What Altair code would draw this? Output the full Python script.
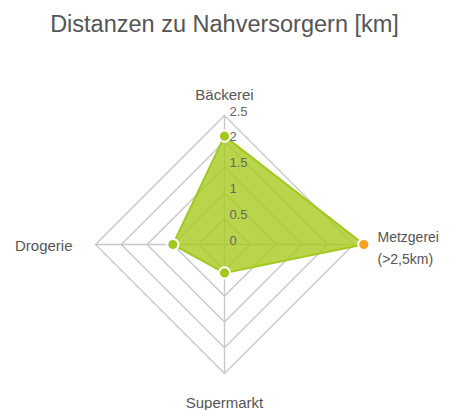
import altair as alt
import pandas as pd

title_text = "Distanzen zu Nahversorgern [km]"
categories = ["Bäckerei", "Metzgerei", "Supermarkt", "Drogerie"]
label_lines = [["Bäckerei"], ["Metzgerei", "(>2,5km)"], ["Supermarkt"], ["Drogerie"]]
values = [2.1, 2.7, 0.55, 1.0]
levels = [0.5, 1.0, 1.5, 2.0, 2.5]
tick_values = [0, 0.5, 1.0, 1.5, 2.0, 2.5]
tick_labels = ["0", "0.5", "1", "1.5", "2", "2.5"]
scale_max = 2.5

GREEN = "#a3c81e"
FILL = "#a8ca1e"
ORANGE = "#f7a21f"
GRID = "#c8c8c8"
FONT = "Liberation Sans, Arial, sans-serif"

n = len(categories)
W, H = 433, 340
PAD_TOP = 62
cx, cy = 216.5, 174.5
R = 129.0
k = scale_max / R
x_dom = [-cx * k, (W - cx) * k]
y_dom = [-(H - cy) * k, cy * k]
xs = alt.Scale(domain=x_dom, nice=False, zero=False)
ys = alt.Scale(domain=y_dom, nice=False, zero=False)
ang = f"datum.idx * 2 * PI / {n}"

data_df = pd.DataFrame({"category": categories, "value": values,
                        "idx": list(range(n)), "label": label_lines})
ring_df = pd.DataFrame([{"level": l, "idx": i} for l in levels for i in range(n)])
spoke_df = pd.DataFrame({"idx": list(range(n))})
tick_df = pd.DataFrame({"v": tick_values, "t": tick_labels})

X = lambda f: alt.X(f, type="quantitative", scale=xs, axis=None)
Y = lambda f: alt.Y(f, type="quantitative", scale=ys, axis=None)

rings = alt.Chart(ring_df).transform_calculate(
    x=f"datum.level * sin({ang})", y=f"datum.level * cos({ang})"
).mark_line(interpolate="linear-closed", stroke=GRID, strokeWidth=1.4).encode(
    x=X("x"), y=Y("y"), detail="level:N", order="idx:Q")

spokes = alt.Chart(spoke_df).transform_calculate(
    x0="0", y0="0",
    x=f"{scale_max} * sin({ang})", y=f"{scale_max} * cos({ang})"
).mark_rule(stroke=GRID, strokeWidth=1.4).encode(
    x=X("x0"), y=Y("y0"), x2="x:Q", y2="y:Q")

pts = alt.Chart(data_df).transform_calculate(
    x=f"datum.value * sin({ang})", y=f"datum.value * cos({ang})")

poly = pts.mark_line(interpolate="linear-closed", fill=FILL, fillOpacity=0.8,
                     stroke=GREEN, strokeWidth=2).encode(
    x=X("x"), y=Y("y"), order="idx:Q")

dots = pts.mark_circle(size=125, stroke="white", strokeWidth=2, opacity=1).encode(
    x=X("x"), y=Y("y"),
    color=alt.condition(f"datum.value > {scale_max}", alt.value(ORANGE), alt.value(GREEN)))

ticks = alt.Chart(tick_df).transform_calculate(x="0", y="datum.v").mark_text(
    align="left", baseline="middle", dx=5, dy=-4, fontSize=13, font=FONT, color="#666666"
).encode(x=X("x"), y=Y("y"), text="t:N")

lab = alt.Chart(data_df).transform_calculate(
    x=f"{scale_max} * sin({ang})", y=f"{scale_max} * cos({ang})")

def label_layer(i, size=15, **kw):
    return lab.transform_filter(f"datum.idx == {i}").mark_text(
        fontSize=size, font=FONT, color="#555555", lineHeight=22, **kw
    ).encode(x=X("x"), y=Y("y"), text="label")

lab_top = label_layer(0, align="center", baseline="middle", dy=-21)
lab_right = label_layer(1, size=14, align="left", baseline="middle", dx=24, dy=-7)
lab_bottom = label_layer(2, align="center", baseline="middle", dy=29)
lab_left = label_layer(3, align="right", baseline="middle", dx=-23, dy=1)

chart = alt.layer(rings, spokes, poly, dots, ticks, lab_top, lab_right, lab_bottom, lab_left).properties(
    width=W, height=H,
    title=alt.TitleParams(title_text, fontSize=23.5, font=FONT, color="#555555",
                          fontWeight="normal", anchor="middle", offset=34),
    padding={"left": 0, "top": PAD_TOP, "right": 0, "bottom": 0},
    autosize="none",
).configure_view(stroke=None)

chart.save("out.html", embed_options={"renderer": "svg", "actions": False})
